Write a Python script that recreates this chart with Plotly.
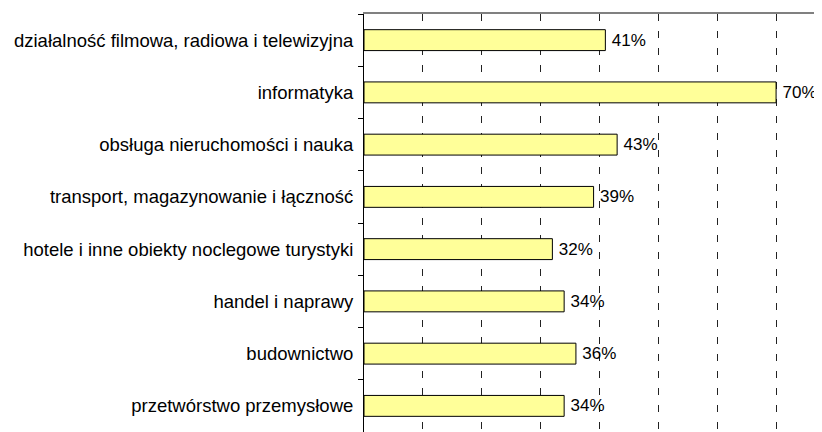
import plotly.graph_objects as go

categories = [
    "działalność filmowa, radiowa i telewizyjna",
    "informatyka",
    "obsługa nieruchomości i nauka",
    "transport, magazynowanie i łączność",
    "hotele i inne obiekty noclegowe turystyki",
    "handel i naprawy",
    "budownictwo",
    "przetwórstwo przemysłowe",
]
values = [0.41, 0.70, 0.43, 0.39, 0.32, 0.34, 0.36, 0.34]

FONT = "Liberation Sans, Arial, sans-serif"

fig = go.Figure(go.Bar(
    x=values,
    y=categories,
    orientation="h",
    width=0.4,
    marker=dict(color="#FFFF99", line=dict(color="black", width=1)),
    texttemplate="\u2009%{x:.0%}",
    textposition="outside",
    textfont=dict(family=FONT, size=17, color="black"),
    cliponaxis=False,
))

fig.update_layout(
    width=814, height=424,
    margin=dict(l=356, r=0, t=6, b=0),
    paper_bgcolor="white", plot_bgcolor="white",
    showlegend=False,
    font=dict(family=FONT, size=18.5, color="black"),
)
fig.update_xaxes(
    range=[0, 0.778],
    side="top",
    showline=True, linecolor="#808080", linewidth=2,
    showticklabels=False, ticks="",
    dtick=0.1, tick0=0,
    showgrid=True, gridcolor="#222222", gridwidth=1, griddash="7px,10px",
    zeroline=False,
)
fig.update_yaxes(
    autorange="reversed",
    showline=True, linecolor="black", linewidth=1,
    ticks="outside", ticklen=5, tickcolor="black", tickson="boundaries",
    ticklabelstandoff=6,
    tickfont=dict(family=FONT, size=18.5, color="black"),
    showgrid=False,
)

fig.write_html("out.html")
